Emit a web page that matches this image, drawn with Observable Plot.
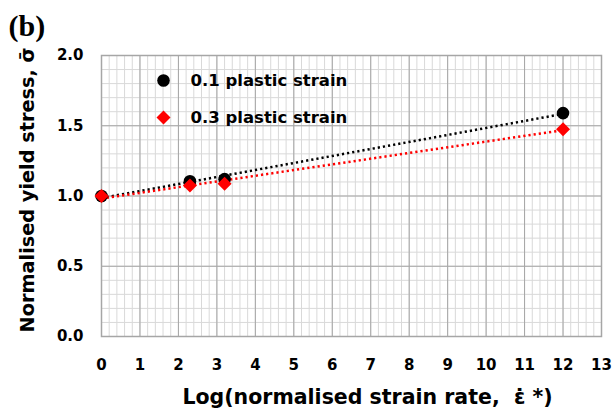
<!DOCTYPE html>
<html>
<head>
<meta charset="utf-8">
<script src="https://cdn.jsdelivr.net/npm/d3@7"></script>
<script src="https://cdn.jsdelivr.net/npm/@observablehq/plot@0.6"></script>
<style>
  html, body { margin: 0; padding: 0; background: #fff; }
  #chart svg { display: block; }
</style>
</head>
<body>
<div id="chart"></div>
<script>
// Data
const strainRate = [0, 2.3, 3.2, 12];                 // Log(normalised strain rate)
const stress01   = [1.0, 1.105, 1.12, 1.59];          // 0.1 plastic strain
const stress03   = [1.0, 1.075, 1.087, 1.475];        // 0.3 plastic strain
const seriesNames = ["0.1 plastic strain", "0.3 plastic strain"];
const xTicks = d3.range(0, 14, 1);
const yTicks = [0, 0.5, 1.0, 1.5, 2.0];
const xMinor = d3.range(0, 13.001, 0.2);
const yMinor = d3.range(0, 2.0001, 0.1);

const s1 = strainRate.map((x, i) => ({x, y: stress01[i]}));
const s2 = strainRate.map((x, i) => ({x, y: stress03[i]}));

// least-squares trend line (evaluated at the data's own x extent)
function trend(data) {
  const mx = d3.mean(data, d => d.x), my = d3.mean(data, d => d.y);
  const sxy = d3.sum(data, d => (d.x - mx) * (d.y - my));
  const sxx = d3.sum(data, d => (d.x - mx) ** 2);
  const b = sxy / sxx, a = my - b * mx;
  return d3.extent(data, d => d.x).map(x => ({x, y: a + b * x}));
}
const t1 = trend(s1), t2 = trend(s2);

const FONT = "'DejaVu Sans', sans-serif";

const chart = Plot.plot({
  width: 614,
  height: 414,
  marginLeft: 101,
  marginRight: 13,
  marginTop: 55,
  marginBottom: 78,
  style: {fontFamily: FONT, background: "#fff", overflow: "visible"},
  x: {domain: [0, 13], ticks: xTicks},
  y: {domain: [0, 2], ticks: yTicks},
  marks: [
    Plot.gridX(xMinor, {stroke: "#d9d9d9", strokeOpacity: 1, strokeWidth: 1}),
    Plot.gridY(yMinor, {stroke: "#d9d9d9", strokeOpacity: 1, strokeWidth: 1}),
    Plot.gridX(xTicks, {stroke: "#a6a6a6", strokeOpacity: 1, strokeWidth: 1}),
    Plot.gridY(yTicks, {stroke: "#a6a6a6", strokeOpacity: 1, strokeWidth: 1}),
    Plot.frame({stroke: "#a6a6a6", strokeWidth: 1.5}),
    Plot.axisX(xTicks, {tickSize: 0, tickPadding: 23, fontSize: 15, fontWeight: "bold", label: null, tickFormat: d => String(d), fill: "#000"}),
    Plot.axisY(yTicks, {tickSize: 0, tickPadding: 18, fontSize: 15, fontWeight: "bold", label: null, tickFormat: d3.format(".1f"), fill: "#000"}),
    // trend lines (dotted)
    Plot.line(t1, {x: "x", y: "y", stroke: "#000", strokeWidth: 2.5, strokeDasharray: "2.2,3", strokeLinecap: "butt"}),
    Plot.line(t2, {x: "x", y: "y", stroke: "#ff0000", strokeWidth: 2.5, strokeDasharray: "2.2,3", strokeLinecap: "butt"}),
    // points
    Plot.dot(s1, {x: "x", y: "y", r: 6.3, fill: "#000", symbol: "circle"}),
    Plot.dot(s2, {x: "x", y: "y", r: 6.3, fill: "#ff0000", symbol: "diamond2"}),
    // legend
    Plot.dot([seriesNames[0]], {frameAnchor: "top-left", dx: 62, dy: 25, r: 6.3, fill: "#000", symbol: "circle"}),
    Plot.dot([seriesNames[1]], {frameAnchor: "top-left", dx: 62, dy: 62, r: 6.3, fill: "#ff0000", symbol: "diamond2"}),
    Plot.text([seriesNames[0]], {frameAnchor: "top-left", dx: 89, dy: 25, text: d => d, textAnchor: "start", lineAnchor: "middle", fontSize: 16.5, fontWeight: "bold", fill: "#000"}),
    Plot.text([seriesNames[1]], {frameAnchor: "top-left", dx: 89, dy: 62, text: d => d, textAnchor: "start", lineAnchor: "middle", fontSize: 16.5, fontWeight: "bold", fill: "#000"}),
    // axis titles
    Plot.text(["Log(normalised strain rate,  \u03B5\u0307 *)"], {frameAnchor: "bottom", dx: 16, dy: 61, text: d => d, textAnchor: "middle", lineAnchor: "middle", fontSize: 20.5, fontWeight: "bold", fill: "#000"}),
    Plot.text(["Normalised yield stress, \u03C3\u0304"], {frameAnchor: "left", dx: -74, dy: -6, rotate: -90, text: d => d, textAnchor: "middle", lineAnchor: "middle", fontSize: 19.3, fontWeight: "bold", fill: "#000"}),
    // panel label
    Plot.text(["(b)"], {frameAnchor: "top-left", dx: -93, dy: -29, text: d => d, textAnchor: "start", lineAnchor: "middle", fontSize: 30, fontWeight: "bold", fontFamily: "'Liberation Serif', serif", fill: "#000"})
  ]
});
document.getElementById("chart").appendChild(chart);
</script>
</body>
</html>
